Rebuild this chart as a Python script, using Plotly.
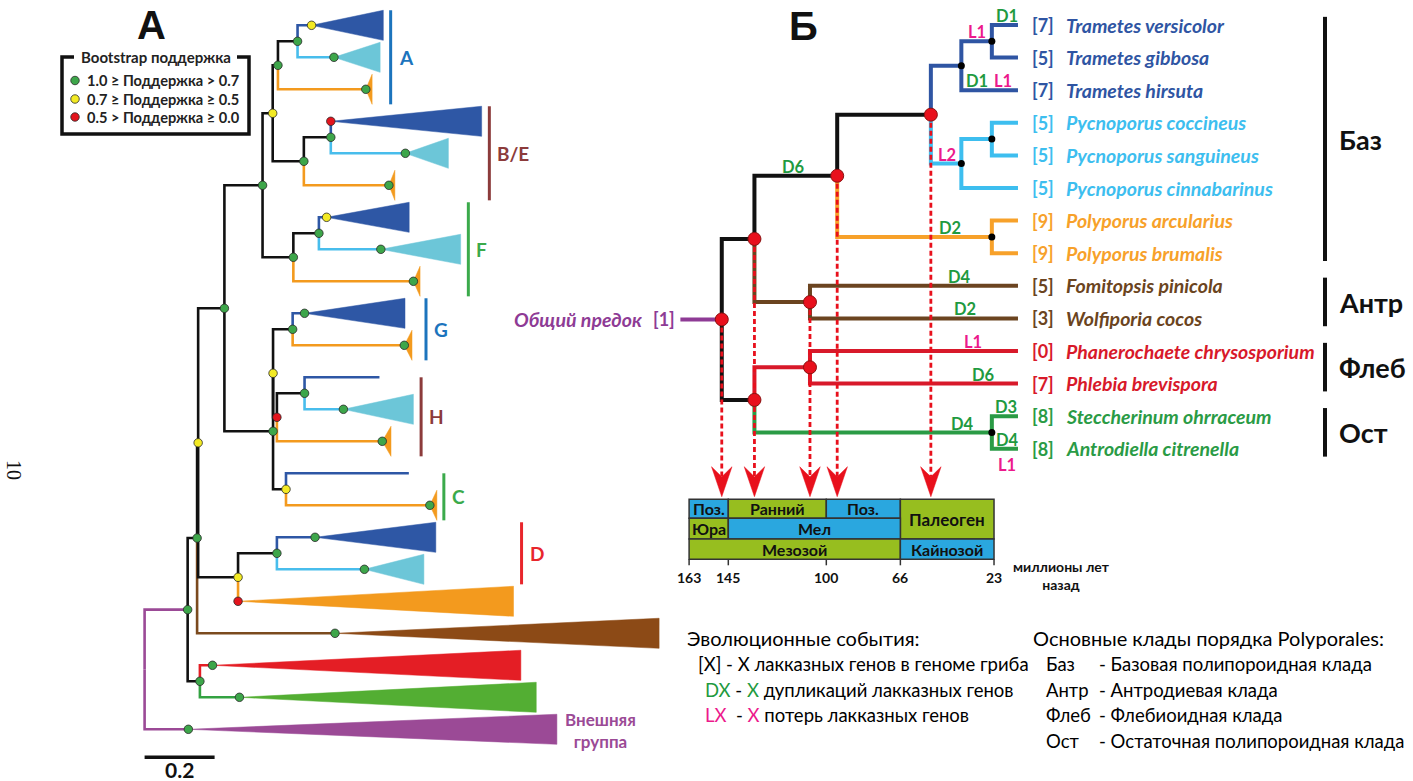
import plotly.graph_objects as go

FONT = "Lato, 'Open Sans', sans-serif"
W, H = 1413, 781

# ===================== Panel A: laccase tree with collapsed clades =====================
# one entry per collapsed clade / single sequence, top to bottom
A_LEAF_GROUP = ["dkblue", "ltblue", "orange",
                "dkblue", "ltblue", "orange",
                "dkblue", "ltblue", "orange",
                "dkblue", "orange",
                "dkblue", "ltblue", "orange",
                "dkblue", "orange",
                "dkblue", "ltblue", "orange",
                "brown", "red", "green", "purple"]
# distance from root to the clade's crown node (substitutions per site)
A_LEAF_NODE = [0.477, 0.541, 0.632, 0.532, 0.745, 0.698, 0.520, 0.675, 0.768,
               0.457, 0.742, 0.671, 0.568, 0.679, 0.755, 0.815, 0.487, 0.628,
               0.267, 0.544, 0.194, 0.271, 0.125]
# depth of the deepest sequence inside the clade
A_LEAF_END = [0.682, 0.673, 0.650, 0.963, 0.868, 0.715, 0.756, 0.903, 0.787,
              0.744, 0.764, 0.671, 0.768, 0.704, 0.755, 0.835, 0.832, 0.798,
              1.054, 1.470, 1.075, 1.119, 1.178]
A_LEAF_SUPPORT = ["y", "g", "g", "r", "g", "g", "y", "g", "g", "g", "g", None,
                  "g", "g", None, "g", "g", "g", "r", "g", "g", "g", "g"]

A_NODE_NAME = ["root", "nin", "G1", "Y1", "n224", "abf", "ab", "a2", "a1", "b2", "b1",
               "f2", "f1", "ghc", "gh", "g1", "h2", "h1", "c1", "d2", "d1", "rg"]
A_NODE_DEPTH = [0.0, 0.123, 0.150, 0.153, 0.228, 0.337, 0.366, 0.381, 0.437, 0.455, 0.532,
                0.425, 0.498, 0.367, 0.367, 0.423, 0.378, 0.457, 0.404, 0.267, 0.378, 0.158]
A_NODE_CHILDREN = [["nin", 22], ["G1", "rg"], ["Y1", 19], ["n224", "d2"], ["abf", "ghc"],
                   ["ab", "f2"], ["a2", "b2"], ["a1", 2], [0, 1], ["b1", 5], [3, 4],
                   ["f1", 8], [6, 7], ["gh", "c1"], ["g1", "h2"], [9, 10], ["h1", 13],
                   [11, 12], [14, 15], ["d1", 18], [16, 17], [20, 21]]
A_NODE_SUPPORT = [None, "g", "g", "y", "g", "g", "y", "g", "g", "g", "g",
                  "g", "g", "g", "y", "g", "r", "g", "y", "y", "g", "g"]
A_NODE_COLOR = [None, "purple"] + ["black"] * 20

A_CLADE_LABEL = ["A", "B/E", "F", "G", "H", "C", "D"]
A_CLADE_FIRST = [0, 3, 6, 9, 11, 14, 16]
A_CLADE_LAST = [2, 5, 8, 10, 13, 15, 17]
A_CLADE_BAR_X = [0.703, 0.985, 0.925, 0.804, 0.790, 0.855, 1.077]
A_CLADE_COLOR = ["#1C74BD", "#8C3B3B", "#3BAA4B", "#1C74BD", "#8C3B3B", "#3BAA4B", "#E8262C"]
A_SCALE = 0.2

A_TRI = {"dkblue": "#2E57A5", "ltblue": "#6CC6D8", "orange": "#F39A1E", "brown": "#8C4A16",
         "red": "#E41E25", "green": "#53AE33", "purple": "#9B4A96"}
A_LINE = {"dkblue": "#2E57A5", "ltblue": "#48BDEC", "orange": "#F39A1E", "brown": "#7B4A1E",
          "red": "#E41E25", "green": "#33A242", "purple": "#9B4A96", "black": "#111111"}
SUPPORT = {"g": "#3DA64A", "y": "#F3EA24", "r": "#E3141D"}
SUPPORT_TEXT = ["1.0 ≥ Поддержка > 0.7", "0.7 ≥ Поддержка ≥ 0.5", "0.5 > Поддержка ≥ 0.0"]

# ===================== Panel B: dated species tree =====================
B_TIP_NAME = ["Trametes versicolor", "Trametes gibbosa", "Trametes hirsuta",
              "Pycnoporus coccineus", "Pycnoporus sanguineus", "Pycnoporus cinnabarinus",
              "Polyporus arcularius", "Polyporus brumalis", "Fomitopsis pinicola",
              "Wolfiporia cocos", "Phanerochaete chrysosporium", "Phlebia brevispora",
              "Steccherinum ohrraceum", "Antrodiella citrenella"]
B_TIP_GENES = [7, 5, 7, 5, 5, 5, 9, 9, 5, 3, 0, 7, 8, 8]
B_TIP_GROUP = ["tram"] * 3 + ["pycn"] * 3 + ["poly"] * 2 + ["antr"] * 2 + ["fleb"] * 2 + ["ost"] * 2
B_TIP_AGE = 12
B_ANCESTOR_AGE = 167
B_ANCESTOR_GENES = 1

B_NODE_NAME = ["root", "core", "tpp", "tp", "t_all", "t_vg", "p_all", "p_cs", "poly",
               "antr", "lower", "phleb", "ost"]
B_NODE_AGE = [148, 133, 95, 52, 38, 24, 38, 24, 24, 107.5, 133, 107.5, 24]
B_NODE_CHILDREN = [["core", "lower"], ["tpp", "antr"], ["tp", "poly"], ["t_all", "p_all"],
                   ["t_vg", 2], [0, 1], ["p_cs", 5], [3, 4], [6, 7], [8, 9],
                   ["phleb", "ost"], [10, 11], [12, 13]]
B_NODE_COLOR = ["purple", "black", "black", "black", "tram", "tram", "pycn", "pycn", "poly",
                "antr", "black", "fleb", "ost"]
B_DATED = ["root", "core", "lower", "tpp", "tp", "antr", "phleb"]
B_ARROW_FROM = ["root", "core", "antr", "tpp", "tp"]

B_COL = {"tram": "#2F55A3", "pycn": "#3DBEEF", "poly": "#F7A12A", "antr": "#6B4420",
         "fleb": "#D8192A", "ost": "#2A9B45", "black": "#111111", "purple": "#8E3B95"}
EV_COL = {"D": "#1F9A40", "L": "#EC1A8C"}

# gene duplication (D) and loss (L) events: label, branch (child node / tip), age
B_EV_LABEL = ["D1", "L1", "D1", "L1", "L2", "D6", "D2", "D4", "D2", "L1", "D6", "D4", "D3", "D4", "L1"]
B_EV_BRANCH = [0, "t_vg", 2, 2, "p_all", "tpp", "poly", 8, 9, 10, 11, "ost", 12, 13, 13]
B_EV_AGE = [17.2, 31.0, 31.0, 18.7, 44.7, 115.2, 43.2, 38.9, 36.1, 32.7, 27.7, 37.7, 17.6, 16.7, 17.1]
B_EV_BELOW = [False] * 14 + [True]

B_CLADE_LABEL = ["Баз", "Антр", "Флеб", "Ост"]
B_CLADE_FIRST = [0, 8, 10, 12]
B_CLADE_LAST = [7, 9, 11, 13]

# geological time scale (million years ago)
TS_LABEL = ["Поз.", "Ранний", "Поз.", "Палеоген", "Юра", "Мел", "Мезозой", "Кайнозой"]
TS_START = [163, 145, 100, 66, 163, 145, 163, 66]
TS_END = [145, 100, 66, 23, 145, 66, 66, 23]
TS_ROW_FROM = [0, 0, 0, 0, 1, 1, 2, 2]
TS_ROW_TO = [1, 1, 1, 2, 2, 2, 3, 3]
TS_COLOR = ["blue", "green", "blue", "green", "green", "blue", "green", "blue"]
TS_TICKS = [163, 145, 100, 66, 23]
TS_FILL = {"blue": "#2AA7DF", "green": "#97BE1F"}

fig = go.Figure()


def add_line(xs, ys, color, width, xa, ya, dash=None):
    fig.add_trace(go.Scatter(x=xs, y=ys, mode="lines", xaxis=xa, yaxis=ya,
                             line=dict(color=color, width=width, dash=dash),
                             hoverinfo="skip", showlegend=False))


def add_poly(xs, ys, color, xa, ya):
    fig.add_trace(go.Scatter(x=xs, y=ys, mode="lines", fill="toself", fillcolor=color,
                             xaxis=xa, yaxis=ya, line=dict(color=color, width=0.5),
                             hoverinfo="skip", showlegend=False))


def add_dots(xs, ys, colors, size, xa, ya, border="#333333", bw=1):
    fig.add_trace(go.Scatter(x=xs, y=ys, mode="markers", xaxis=xa, yaxis=ya,
                             marker=dict(color=colors, size=size, line=dict(color=border, width=bw)),
                             hoverinfo="skip", showlegend=False))


def note(text, x, y, size, color="#111111", xref="x", yref="y", xanchor="center",
         yanchor="middle", weight="normal", style="normal", family=FONT, xshift=0, yshift=0,
         angle=0):
    fig.add_annotation(text=text, x=x, y=y, xref=xref, yref=yref, showarrow=False,
                       xanchor=xanchor, yanchor=yanchor, xshift=xshift, yshift=yshift,
                       textangle=angle,
                       font=dict(family=family, size=size, color=color, weight=weight, style=style))


# ---------------- Panel A drawing ----------------
a_children = dict(zip(A_NODE_NAME, A_NODE_CHILDREN))
a_depth = dict(zip(A_NODE_NAME, A_NODE_DEPTH))
a_color = dict(zip(A_NODE_NAME, A_NODE_COLOR))


def a_pos(k):
    if isinstance(k, int):
        return A_LEAF_NODE[k], float(k)
    ys = [a_pos(c)[1] for c in a_children[k]]
    return a_depth[k], (ys[0] + ys[-1]) / 2


HALF = 0.47
for i, grp in enumerate(A_LEAF_GROUP):
    if A_LEAF_END[i] > A_LEAF_NODE[i]:
        add_poly([A_LEAF_NODE[i], A_LEAF_END[i], A_LEAF_END[i], A_LEAF_NODE[i]],
                 [i, i - HALF, i + HALF, i], A_TRI[grp], "x2", "y2")

segs = {}
for name in A_NODE_NAME:
    px, py = a_pos(name)
    for c in a_children[name]:
        cx, cy = a_pos(c)
        col = A_LEAF_GROUP[c] if isinstance(c, int) else a_color[c]
        xs, ys = segs.setdefault(col, ([], []))
        xs += [px, px, cx, None]
        ys += [py, cy, cy, None]
for col in ["dkblue", "ltblue", "orange", "brown", "red", "green", "purple", "black"]:
    if col in segs:
        add_line(segs[col][0], segs[col][1], A_LINE[col], 2.6, "x2", "y2")

dx, dy, dc = [], [], []
for i, s in enumerate(A_LEAF_SUPPORT):
    if s:
        dx.append(A_LEAF_NODE[i]); dy.append(i); dc.append(SUPPORT[s])
for name, s in zip(A_NODE_NAME, A_NODE_SUPPORT):
    if s:
        x, y = a_pos(name)
        dx.append(x); dy.append(y); dc.append(SUPPORT[s])
add_dots(dx, dy, dc, 8.5, "x2", "y2", border="#2a2a2a", bw=0.8)

# clade bars and labels
for lab, f, l, bx, col in zip(A_CLADE_LABEL, A_CLADE_FIRST, A_CLADE_LAST, A_CLADE_BAR_X, A_CLADE_COLOR):
    top = f - (HALF if A_LEAF_END[f] > A_LEAF_NODE[f] else 0)
    bot = l + HALF
    add_line([bx, bx], [top, bot], col, 3, "x2", "y2")
    note(lab, bx, (top + bot) / 2, 19, color=col, xref="x2", yref="y2",
         xanchor="left", weight="bold", xshift=6)

note("Внешняя<br>группа", A_LEAF_END[22], 22, 17, color="#9B4A96", xref="x2", yref="y2",
     xanchor="left", weight="bold", xshift=6, yshift=-1)

# scale bar
add_line([0, A_SCALE], [22.87, 22.87], "#111111", 3.5, "x2", "y2")
note("0.2", A_SCALE / 2, 23.27, 21, xref="x2", yref="y2", weight="bold", yanchor="middle")

# bootstrap legend box
fig.add_shape(type="path", path="M 74 57 L 62 57 L 62 134 L 249 134 L 249 57 L 237 57",
              xref="x", yref="y", line=dict(color="#111111", width=3.5))
note("Bootstrap поддержка", 156, 57, 15, weight="bold", color="#222222")
leg_y = [80.5, 99, 117]
add_dots([75, 75, 75], leg_y, [SUPPORT["g"], SUPPORT["y"], SUPPORT["r"]], 8.5, "x", "y",
         border="#2a2a2a", bw=0.8)
for t, y in zip(SUPPORT_TEXT, leg_y):
    note(t, 85, y, 14.6, xanchor="left", weight="bold", color="#222222")

note("А", 151, 25, 40, weight="bold", family="'Liberation Sans', Arial, sans-serif")
note("10", 14, 470, 20, family="'Liberation Serif', 'Times New Roman', serif", angle=90)

# ---------------- Panel B drawing ----------------
b_children = dict(zip(B_NODE_NAME, B_NODE_CHILDREN))
b_age = dict(zip(B_NODE_NAME, B_NODE_AGE))
b_color = dict(zip(B_NODE_NAME, B_NODE_COLOR))


def b_pos(k):
    if isinstance(k, int):
        return B_TIP_AGE, float(k)
    ys = [b_pos(c)[1] for c in b_children[k]]
    return b_age[k], (ys[0] + ys[-1]) / 2


bsegs = {}
for name in B_NODE_NAME:
    px, py = b_pos(name)
    for c in b_children[name]:
        cx, cy = b_pos(c)
        col = B_TIP_GROUP[c] if isinstance(c, int) else b_color[c]
        xs, ys = bsegs.setdefault(col, ([], []))
        xs += [px, px, cx, None]
        ys += [py, cy, cy, None]
rx, ry = b_pos("root")
bsegs.setdefault("purple", ([], []))
bsegs["purple"][0].extend([B_ANCESTOR_AGE, rx, None])
bsegs["purple"][1].extend([ry, ry, None])
for col in ["tram", "pycn", "poly", "antr", "fleb", "ost", "purple", "black"]:
    if col in bsegs:
        add_line(bsegs[col][0], bsegs[col][1], B_COL[col], 4, "x3", "y3")

# dotted projections of dated nodes onto the time scale
ARROW_TOP, ARROW_NOTCH, ARROW_TIP, ARROW_HALF = 13.55, 13.86, 14.47, 4.7
for name in B_ARROW_FROM:
    x, y = b_pos(name)
    add_line([x, x], [y, ARROW_NOTCH], "#E8101C", 2.8, "x3", "y3", dash="5px,3px")
    add_poly([x, x - ARROW_HALF, x, x + ARROW_HALF, x],
             [ARROW_TIP, ARROW_TOP, ARROW_NOTCH, ARROW_TOP, ARROW_TIP], "#E8101C", "x3", "y3")

small_x, small_y = [], []
for name in B_NODE_NAME:
    if name not in B_DATED:
        x, y = b_pos(name)
        small_x.append(x); small_y.append(y)
add_dots(small_x, small_y, "#000000", 7, "x3", "y3", border="#000000", bw=0)
big = [b_pos(n) for n in B_DATED]
add_dots([p[0] for p in big], [p[1] for p in big], "#E8101C", 13, "x3", "y3",
         border="#8A1010", bw=1)

# tip labels
for i, (nm, g, grp) in enumerate(zip(B_TIP_NAME, B_TIP_GENES, B_TIP_GROUP)):
    col = B_COL[grp]
    note(f"[{g}]", B_TIP_AGE, i, 18, color=col, xref="x3", yref="y3", xanchor="left",
         weight="bold", xshift=12)
    note(nm, B_TIP_AGE, i, 19.5, color=col, xref="x3", yref="y3", xanchor="left",
         weight="bold", style="italic", xshift=46)

# events on branches
for lab, br, age, below in zip(B_EV_LABEL, B_EV_BRANCH, B_EV_AGE, B_EV_BELOW):
    _, y = b_pos(br)
    note(lab, age, y, 16.5, color=EV_COL[lab[0]], xref="x3", yref="y3", weight="bold",
         yshift=-16 if below else 9)

# common ancestor
note(f"[{B_ANCESTOR_GENES}]", B_ANCESTOR_AGE, ry, 18, color=B_COL["purple"], xref="x3", yref="y3",
     xanchor="right", weight="bold", xshift=-3)
note("Общий предок", B_ANCESTOR_AGE, ry, 19.5, color=B_COL["purple"], xref="x3", yref="y3",
     xanchor="right", weight="bold", style="italic", xshift=-36)

# clade brackets on the right
for lab, f, l in zip(B_CLADE_LABEL, B_CLADE_FIRST, B_CLADE_LAST):
    add_line([1325, 1325], [f - 0.25, l + 0.24], "#111111", 4, "x", "y3")
    note(lab, 1337, (f + l) / 2, 27, xref="x", yref="y3", xanchor="left", weight="bold")

note("Б", 803, 26, 40, weight="bold", family="'Liberation Sans', Arial, sans-serif")

# time scale boxes
ROWS = [499.3, 518.3, 539.0, 559.3]
for lab, s, e, r0, r1, c in zip(TS_LABEL, TS_START, TS_END, TS_ROW_FROM, TS_ROW_TO, TS_COLOR):
    fig.add_shape(type="rect", xref="x3", yref="y", x0=s, x1=e, y0=ROWS[r0], y1=ROWS[r1],
                  fillcolor=TS_FILL[c], line=dict(color="#333333", width=1.5), layer="below")
    note(lab, (s + e) / 2, (ROWS[r0] + ROWS[r1]) / 2, 17 if r1 - r0 > 1 else 16,
         xref="x3", yref="y", weight="bold")
for t in TS_TICKS:
    fig.add_shape(type="line", xref="x3", yref="y", x0=t, x1=t, y0=ROWS[-1], y1=ROWS[-1] + 6,
                  line=dict(color="#333333", width=1.5))
    note(str(t), t, 577, 14, xref="x3", yref="y", weight="bold")
note("миллионы лет<br>назад", 1061, 575, 14, weight="bold")

# ---------------- bottom legends ----------------
G, M = EV_COL["D"], EV_COL["L"]
note("Эволюционные события:", 685, 638, 20, xanchor="left", color="#000000")
note("[X] - X лакказных генов в геноме гриба", 696, 664, 18.5, xanchor="left", color="#000000")
note(f"<span style='color:{G}'>DX</span> - <span style='color:{G}'>X</span> дупликаций лакказных генов",
     703, 690, 18.5, xanchor="left", color="#000000")
note(f"<span style='color:{M}'>LX</span>  - <span style='color:{M}'>X</span> потерь лакказных генов",
     703, 715, 18.5, xanchor="left", color="#000000")

note("Основные клады порядка Polyporales:", 1031, 638, 20, xanchor="left", color="#000000")
CL_ABBR = ["Баз", "Антр", "Флеб", "Ост"]
CL_DESC = ["- Базовая полипороидная клада", "- Антродиевая клада",
           "- Флебиоидная клада", "- Остаточная полипороидная клада"]
for j, (ab, de) in enumerate(zip(CL_ABBR, CL_DESC)):
    y = 664 + 25.5 * j
    note(ab, 1044, y, 18.5, xanchor="left", color="#000000")
    note(de, 1097, y, 18.5, xanchor="left", color="#000000")

# ---------------- axes ----------------
PX_A, X0_A = 350.0, 144.6          # pixels per substitution unit, root position
PY_A, Y0_A = 32.0, 25.3            # pixels per leaf row, first row
PX_B, X0_B = 2.178, 689.1          # pixels per Myr, position of 163 Ma
PY_B, Y0_B = 32.6, 25.0

hidden = dict(visible=False, showgrid=False, zeroline=False, fixedrange=True)
fig.update_layout(
    width=W, height=H, margin=dict(l=0, r=0, t=0, b=0),
    paper_bgcolor="white", plot_bgcolor="white", showlegend=False,
    font=dict(family=FONT),
    xaxis=dict(range=[0, W], domain=[0, 1], **hidden),
    yaxis=dict(range=[H, 0], domain=[0, 1], **hidden),
    xaxis2=dict(range=[-X0_A / PX_A, (W - X0_A) / PX_A], overlaying="x", anchor="y2", **hidden),
    yaxis2=dict(range=[(H - Y0_A) / PY_A, -Y0_A / PY_A], overlaying="y", anchor="x2", **hidden),
    xaxis3=dict(range=[163 + X0_B / PX_B, 163 - (W - X0_B) / PX_B], overlaying="x", anchor="y3", **hidden),
    yaxis3=dict(range=[(H - Y0_B) / PY_B, -Y0_B / PY_B], overlaying="y", anchor="x3", **hidden),
)

fig.write_html("out.html")
